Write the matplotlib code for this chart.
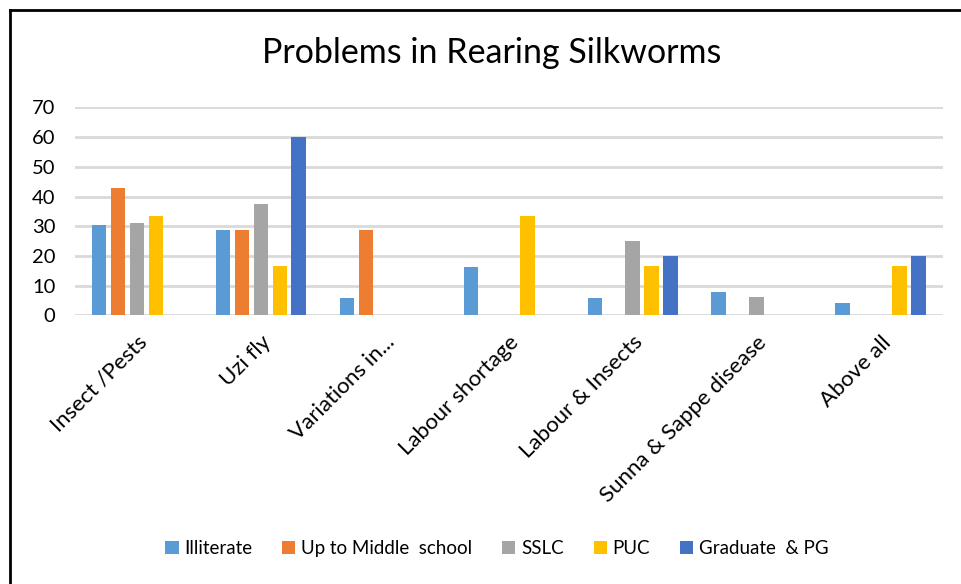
import numpy as np
import matplotlib.pyplot as plt
from matplotlib.lines import Line2D

plt.rcParams['font.family'] = ['Lato', 'DejaVu Sans']

categories = ['Insect /Pests', 'Uzi fly', 'Variations in...', 'Labour shortage',
              'Labour & Insects', 'Sunna & Sappe disease', 'Above all']
series_names = ['Illiterate', 'Up to Middle  school', 'SSLC', 'PUC', 'Graduate  & PG']
colors = ['#5b9bd5', '#ed7d31', '#a5a5a5', '#ffc000', '#4472c4']

illiterate = [30.4, 28.6, 5.7, 16.2, 5.7, 8.0, 4.0]
middle_school = [42.9, 28.6, 28.6, 0, 0, 0, 0]
sslc = [31.2, 37.5, 0, 0, 25.0, 6.2, 0]
puc = [33.3, 16.7, 0, 33.3, 16.7, 0, 16.7]
graduate = [0, 60.0, 0, 0, 20.0, 0, 20.0]
all_series = [illiterate, middle_school, sslc, puc, graduate]

fig = plt.figure(figsize=(9.61, 5.84), dpi=100)
ax = fig.add_axes([0.078, 0.46, 0.903, 0.356])

x = np.arange(len(categories))
step = 0.153
width = 0.119
for i, (name, vals, c) in enumerate(zip(series_names, all_series, colors)):
    ax.bar(x + (i - 2) * step, vals, width, color=c, label=name, zorder=3)

ax.set_xlim(-0.5, len(categories) - 0.5)
ax.set_ylim(0, 70)
ax.set_yticks(range(0, 71, 10))
ax.yaxis.grid(True, color='#d9d9d9', linewidth=2, zorder=0)
for s in ax.spines.values():
    s.set_visible(False)
ax.tick_params(axis='both', length=0, labelsize=14.5, colors='black')
ax.tick_params(axis='y', pad=14)
ax.set_xticks(x)
ax.set_xticklabels(categories, rotation=45, ha='right', va='top',
                   rotation_mode='anchor', fontsize=16)
ax.tick_params(axis='x', pad=12)

fig.text(0.512, 0.91, 'Problems in Rearing Silkworms', ha='center', va='center',
         fontsize=24.5)

fig.legend(loc='center', bbox_to_anchor=(0.517, 0.06), ncol=5, frameon=False,
           fontsize=13.5, handlelength=0.7, handleheight=0.7, handletextpad=0.3,
           columnspacing=1.6)

# chart border (top and left edges visible)
fig.add_artist(Line2D([10 / 961, 1], [1 - 10 / 584, 1 - 10 / 584],
                      transform=fig.transFigure, color='black', linewidth=2))
fig.add_artist(Line2D([10 / 961, 10 / 961], [0, 1 - 10 / 584],
                      transform=fig.transFigure, color='black', linewidth=2))

fig.savefig('out.png', dpi=100, facecolor='white')
